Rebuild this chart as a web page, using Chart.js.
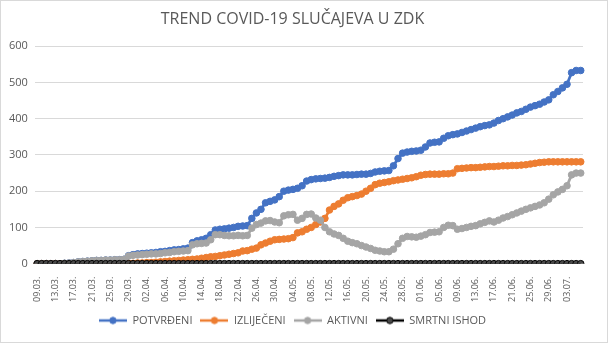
<!DOCTYPE html>
<html>
<head>
<meta charset="utf-8">
<script src="https://cdn.jsdelivr.net/npm/chart.js@4"></script>
<style>
	html, body { margin: 0; padding: 0; background: #fff; }
	#box { width: 606px; height: 341px; border: 1px solid #d9d9d9; position: relative; }
</style>
</head>
<body>
<div id="box"><canvas id="chart"></canvas></div>
<script>
// Daily values, 09.03. – 06.07.
const days = [
	'09.03.', '10.03.', '11.03.', '12.03.', '13.03.', '14.03.', '15.03.', '16.03.', '17.03.', '18.03.',
	'19.03.', '20.03.', '21.03.', '22.03.', '23.03.', '24.03.', '25.03.', '26.03.', '27.03.', '28.03.',
	'29.03.', '30.03.', '31.03.', '01.04.', '02.04.', '03.04.', '04.04.', '05.04.', '06.04.', '07.04.',
	'08.04.', '09.04.', '10.04.', '11.04.', '12.04.', '13.04.', '14.04.', '15.04.', '16.04.', '17.04.',
	'18.04.', '19.04.', '20.04.', '21.04.', '22.04.', '23.04.', '24.04.', '25.04.', '26.04.', '27.04.',
	'28.04.', '29.04.', '30.04.', '01.05.', '02.05.', '03.05.', '04.05.', '05.05.', '06.05.', '07.05.',
	'08.05.', '09.05.', '10.05.', '11.05.', '12.05.', '13.05.', '14.05.', '15.05.', '16.05.', '17.05.',
	'18.05.', '19.05.', '20.05.', '21.05.', '22.05.', '23.05.', '24.05.', '25.05.', '26.05.', '27.05.',
	'28.05.', '29.05.', '30.05.', '31.05.', '01.06.', '02.06.', '03.06.', '04.06.', '05.06.', '06.06.',
	'07.06.', '08.06.', '09.06.', '10.06.', '11.06.', '12.06.', '13.06.', '14.06.', '15.06.', '16.06.',
	'17.06.', '18.06.', '19.06.', '20.06.', '21.06.', '22.06.', '23.06.', '24.06.', '25.06.', '26.06.',
	'27.06.', '28.06.', '29.06.', '30.06.', '01.07.', '02.07.', '03.07.', '04.07.', '05.07.', '06.07.',
];

const potvrdeni = [
	0, 0, 0, 0, 0, 0, 1, 2, 3, 5,
	6, 7, 8, 9, 9, 10, 10, 11, 11, 12,
	22, 25, 27, 28, 29, 30, 31, 33, 34, 36,
	38, 39, 41, 43, 58, 63, 66, 70, 80, 93,
	95, 96, 98, 100, 103, 104, 105, 125, 140, 150,
	168, 172, 176, 185, 200, 203, 205, 208, 215, 228,
	232, 234, 235, 236, 238, 241, 243, 245, 245, 245,
	246, 247, 247, 249, 253, 255, 256, 257, 270, 290,
	305, 308, 310, 311, 313, 322, 333, 335, 336, 346,
	353, 356, 358, 362, 366, 370, 374, 378, 381, 383,
	388, 395, 400, 405, 410, 416, 420, 426, 432, 436,
	440, 446, 452, 466, 475, 485, 495, 527, 533, 533,
];

const izlijeceni = [
	0, 0, 0, 0, 0, 0, 0, 0, 0, 0,
	0, 0, 0, 0, 0, 0, 0, 0, 0, 0,
	1, 1, 2, 2, 3, 3, 4, 5, 6, 7,
	8, 9, 10, 11, 12, 13, 15, 17, 19, 20,
	22, 24, 26, 28, 30, 35, 36, 40, 43, 52,
	57, 62, 66, 67, 68, 69, 72, 85, 88, 95,
	100, 108, 115, 125, 148, 158, 165, 175, 182, 185,
	188, 192, 200, 208, 218, 222, 224, 226, 229, 231,
	233, 235, 237, 240, 244, 246, 247, 247, 247, 248,
	248, 250, 262, 263, 264, 265, 265, 266, 267, 268,
	268, 269, 270, 270, 271, 271, 272, 273, 275, 277,
	279, 280, 281, 281, 281, 281, 281, 281, 281, 281,
];

const aktivni = [
	0, 0, 0, 0, 0, 0, 1, 2, 3, 5,
	6, 7, 8, 9, 9, 10, 10, 11, 11, 12,
	21, 23, 24, 25, 26, 27, 27, 28, 30, 31,
	33, 34, 35, 36, 52, 55, 56, 57, 66, 80,
	80, 78, 77, 77, 78, 77, 78, 98, 108, 112,
	118, 119, 115, 113, 132, 135, 136, 120, 125, 136,
	137, 126, 120, 100, 88, 82, 78, 70, 62, 58,
	55, 50, 46, 42, 37, 35, 33, 33, 40, 55,
	70, 75, 74, 73, 76, 80, 86, 87, 88, 100,
	106, 105, 95, 97, 100, 103, 105, 110, 114, 118,
	115, 120, 126, 130, 135, 140, 145, 150, 154, 158,
	162, 168, 178, 190, 198, 205, 215, 245, 250, 250,
];

const smrtniIshod = [
	0, 0, 0, 0, 0, 0, 0, 0, 0, 0,
	0, 0, 0, 0, 0, 0, 0, 0, 0, 0,
	0, 0, 0, 0, 0, 0, 0, 0, 0, 0,
	0, 0, 0, 0, 0, 0, 0, 0, 0, 0,
	0, 0, 0, 0, 0, 0, 0, 0, 0, 0,
	0, 0, 0, 0, 0, 0, 0, 0, 0, 0,
	0, 0, 0, 0, 0, 0, 0, 0, 0, 0,
	0, 0, 0, 0, 0, 0, 0, 0, 0, 0,
	0, 0, 0, 0, 0, 0, 0, 0, 0, 0,
	0, 0, 0, 0, 0, 0, 0, 0, 0, 0,
	0, 0, 0, 0, 0, 0, 0, 0, 0, 0,
	0, 0, 0, 0, 0, 0, 0, 0, 0, 0,
];

const yTicks = [ 0, 100, 200, 300, 400, 500, 600 ];

const textColor = '#595959';
const font = 'Open Sans, Liberation Sans, sans-serif';

// legend symbol: short line with a marker in the middle
function legendSymbol( line, fill ) {
	const c = document.createElement( 'canvas' );
	c.width = 28;
	c.height = 10;
	const ctx = c.getContext( '2d' );
	ctx.strokeStyle = line;
	ctx.lineWidth = 2.5;
	ctx.beginPath();
	ctx.moveTo( 0, 5 );
	ctx.lineTo( 28, 5 );
	ctx.stroke();
	ctx.fillStyle = fill;
	ctx.beginPath();
	ctx.arc( 14, 5, 3.2, 0, Math.PI * 2 );
	ctx.fill();
	ctx.lineWidth = 1;
	ctx.stroke();
	return c;
}

function series( label, data, color, fill, order ) {
	return {
		label,
		data,
		borderColor: color,
		backgroundColor: fill,
		borderWidth: 2.75,
		pointRadius: 3.3,
		pointBorderWidth: 1,
		pointBorderColor: color,
		pointBackgroundColor: fill,
		pointStyle: 'circle',
		symbol: legendSymbol( color, fill ),
		tension: 0,
		order,
	};
}

new Chart( document.getElementById( 'chart' ), {
	type: 'line',
	data: {
		labels: days,
		datasets: [
			series( 'POTVRĐENI', potvrdeni, '#4472c4', '#4472c4', 4 ),
			series( 'IZLIJEČENI', izlijeceni, '#ed7d31', '#ed7d31', 3 ),
			series( 'AKTIVNI', aktivni, '#a5a5a5', '#a5a5a5', 2 ),
			series( 'SMRTNI ISHOD', smrtniIshod, '#000000', '#4a4a4a', 1 ),
		],
	},
	options: {
		responsive: true,
		maintainAspectRatio: false,
		animation: false,
		layout: { padding: { left: 1, right: 24, top: 0, bottom: 6 } },
		plugins: {
			title: {
				display: true,
				text: 'TREND COVID-19 SLUČAJEVA U ZDK',
				color: textColor,
				font: { family: font, size: 16, weight: 'normal' },
				padding: { top: 9, bottom: 17 },
			},
			legend: {
				position: 'bottom',
				labels: {
					color: textColor,
					font: { family: font, size: 11 },
					usePointStyle: true,
					pointStyleWidth: 28,
					padding: 8,
					boxHeight: 10,
					generateLabels: ( chart ) => chart.data.datasets.map( ( ds, i ) => ( {
						text: ds.label,
						fontColor: textColor,
						pointStyle: ds.symbol,
						lineWidth: 0,
						datasetIndex: i,
						hidden: false,
					} ) ),
				},
			},
			tooltip: { enabled: false },
		},
		scales: {
			x: {
				offset: true,
				grid: { display: false },
				border: { display: false },
				ticks: {
					autoSkip: false,
					maxRotation: 90,
					minRotation: 90,
					color: textColor,
					font: { family: font, size: 9 },
					padding: 5,
					callback: ( v, i ) => ( i % 4 === 0 ? days[ i ] : '' ),
				},
			},
			y: {
				min: 0,
				max: 600,
				afterBuildTicks: ( s ) => { s.ticks = yTicks.map( ( v ) => ( { value: v } ) ); },
				grid: { color: '#d9d9d9', drawTicks: false },
				border: { display: false },
				ticks: { color: textColor, font: { family: font, size: 11 }, padding: 7 },
			},
		},
	},
} );
</script>
</body>
</html>
